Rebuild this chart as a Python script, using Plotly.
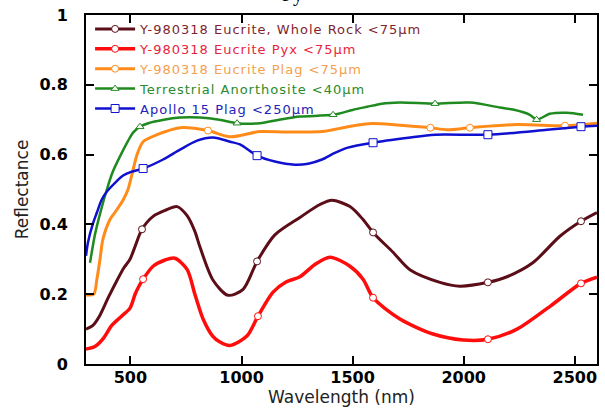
import plotly.graph_objects as go

# ---------------- data ----------------
wr_x = [300, 330, 363, 400, 440, 470, 498, 521, 552, 602, 656, 710, 755, 790, 813, 872, 939, 1007, 1070,
        1150, 1263, 1353, 1407, 1488, 1547, 1592, 1682, 1758, 1893, 1983, 2109, 2195, 2311, 2433, 2528, 2600]
wr_y = [0.10, 0.11, 0.14, 0.19, 0.24, 0.275, 0.30, 0.337, 0.386, 0.423, 0.44, 0.451, 0.425, 0.38, 0.335, 0.24, 0.197, 0.214, 0.294,
        0.37, 0.42, 0.457, 0.469, 0.451, 0.414, 0.377, 0.32, 0.27, 0.234, 0.223, 0.234, 0.25, 0.29, 0.366, 0.409, 0.434]
wr_mark = [552, 1070, 1592, 2109, 2528]

pyx_x = [300, 340, 380, 415, 460, 498, 521, 540, 557, 602, 656, 700, 755, 790, 827, 870, 903, 948, 1024, 1074,
         1142, 1200, 1263, 1330, 1398, 1488, 1547, 1592, 1713, 1862, 1998, 2109, 2240, 2390, 2528, 2600]
pyx_y = [0.043, 0.05, 0.075, 0.11, 0.137, 0.16, 0.20, 0.225, 0.243, 0.28, 0.298, 0.303, 0.271, 0.20, 0.129, 0.08, 0.063, 0.053, 0.08, 0.137,
         0.206, 0.235, 0.25, 0.285, 0.306, 0.28, 0.243, 0.19, 0.129, 0.086, 0.069, 0.071, 0.10, 0.166, 0.231, 0.249]
pyx_mark = [557, 1074, 1592, 2109, 2528]

plag_x = [300, 335, 349, 363, 376, 408, 430, 467, 489, 512, 530, 557, 620, 723, 849, 948, 1083, 1200, 1362,
          1480, 1587, 1700, 1850, 1925, 2028, 2240, 2456, 2600]
plag_y = [0.198, 0.20, 0.243, 0.30, 0.357, 0.414, 0.434, 0.47, 0.50, 0.557, 0.60, 0.637, 0.657, 0.677, 0.669, 0.651, 0.666, 0.665, 0.666,
          0.68, 0.689, 0.685, 0.677, 0.671, 0.677, 0.686, 0.683, 0.69]
plag_mark = [849, 1850, 2028, 2456]

anor_x = [318, 340, 363, 394, 420, 453, 490, 512, 543, 580, 650, 723, 813, 900, 980, 1083, 1170, 1263, 1412,
          1500, 1565, 1632, 1713, 1871, 2028, 2163, 2222, 2298, 2328, 2388, 2465, 2537]
anor_y = [0.29, 0.37, 0.43, 0.50, 0.55, 0.595, 0.64, 0.663, 0.68, 0.69, 0.70, 0.706, 0.706, 0.70, 0.69, 0.69, 0.70, 0.709, 0.714,
          0.728, 0.737, 0.746, 0.749, 0.746, 0.749, 0.735, 0.729, 0.714, 0.70, 0.717, 0.72, 0.714]
anor_mark = [543, 980, 1412, 1871, 2328]

apollo_x = [300, 309, 330, 349, 370, 395, 440, 467, 500, 557, 647, 723, 800, 872, 948, 993, 1070, 1150, 1240,
            1300, 1362, 1420, 1479, 1592, 1750, 1871, 2109, 2375, 2528, 2600]
apollo_y = [0.31, 0.349, 0.40, 0.434, 0.47, 0.495, 0.525, 0.54, 0.55, 0.56, 0.586, 0.614, 0.64, 0.649, 0.637, 0.629, 0.597, 0.58, 0.571,
            0.574, 0.586, 0.605, 0.62, 0.634, 0.648, 0.657, 0.657, 0.671, 0.68, 0.683]
apollo_mark = [557, 1070, 1592, 2109, 2528]

names = ["Y-980318 Eucrite, Whole Rock <75µm",
         "Y-980318 Eucrite Pyx <75µm",
         "Y-980318 Eucrite Plag <75µm",
         "Terrestrial Anorthosite <40µm",
         "Apollo 15 Plag <250µm"]

x_ticks = [500, 1000, 1500, 2000, 2500]
y_ticks = [0, 0.2, 0.4, 0.6, 0.8, 1]
y_ticktext = ["0", "0.2", "0.4", "0.6", "0.8", "1"]

# ---------------- styling ----------------
series = [
    (wr_x, wr_y, wr_mark, "#5c0e18", "#7d1f2e", "circle", 7, 3),
    (pyx_x, pyx_y, pyx_mark, "#ff0d0d", "#e8243c", "circle", 7, 3.5),
    (plag_x, plag_y, plag_mark, "#ff8c1a", "#f4a04e", "circle", 7, 3),
    (anor_x, anor_y, anor_mark, "#1f8a1f", "#2b8a2b", "triangle-up", 7, 2.5),
    (apollo_x, apollo_y, apollo_mark, "#1010d0", "#2323b8", "square", 8, 2.5),
]

fig = go.Figure()
for i, (xs, ys, mk, col, tcol, sym, msz, lw) in enumerate(series):
    grp = f"g{i}"
    fig.add_trace(go.Scatter(x=xs, y=ys, mode="lines", line=dict(color=col, width=lw, shape="spline", smoothing=0.8),
                             showlegend=False, legendgroup=grp, hoverinfo="skip"))
    mx = [x for x in xs if x in mk]
    my = [y for x, y in zip(xs, ys) if x in mk]
    fig.add_trace(go.Scatter(x=mx, y=my, mode="markers",
                             marker=dict(symbol=sym, size=msz, color="white", line=dict(color=col, width=1)),
                             showlegend=False, legendgroup=grp))
    fig.add_trace(go.Scatter(x=[None], y=[None], mode="lines+markers",
                             name=f"<span style='color:{tcol};letter-spacing:1px'>{names[i]}</span>",
                             line=dict(color=col, width=lw),
                             marker=dict(symbol=sym, size=msz, color="white", line=dict(color=col, width=1)),
                             legendgroup=grp, showlegend=True))

axis_common = dict(showline=True, linecolor="black", linewidth=2, mirror="ticks", ticks="inside",
                   ticklen=8, tickwidth=2, tickcolor="black", showgrid=False, zeroline=False,
                   ticklabeloverflow="allow",
                   tickfont=dict(family="DejaVu Sans", size=16, color="black", weight="bold"))

fig.update_xaxes(range=[300, 2600], tickvals=x_ticks, ticktext=[str(v) for v in x_ticks],
                 ticklabelstandoff=-2,
                 title=dict(text="Wavelength (nm)", font=dict(family="DejaVu Sans", size=17, color="#222"), standoff=1),
                 **axis_common)
fig.update_yaxes(range=[0, 1], tickvals=y_ticks, ticktext=y_ticktext,
                 ticklabelstandoff=13,
                 title=dict(text="Reflectance", font=dict(family="DejaVu Sans", size=17, color="#222"), standoff=7),
                 **axis_common)

fig.add_annotation(text="Py", xref="paper", yref="paper", x=0.405, y=1.0, yshift=7, xanchor="center",
                   yanchor="bottom", showarrow=False, font=dict(family="Liberation Serif", size=20, color="black"))

fig.update_layout(
    width=605, height=410,
    margin=dict(l=86, r=8, t=15, b=46, autoexpand=False),
    paper_bgcolor="white", plot_bgcolor="white",
    legend=dict(x=0.008, y=1.003, xanchor="left", yanchor="top", bgcolor="rgba(0,0,0,0)",
                font=dict(family="DejaVu Sans", size=13), tracegroupgap=0, itemwidth=40,
                traceorder="normal"),
    showlegend=True,
)

fig.write_html("out.html", config={"displayModeBar": False},
               post_script="document.body.style.margin='0px';document.body.style.padding='0px';")
